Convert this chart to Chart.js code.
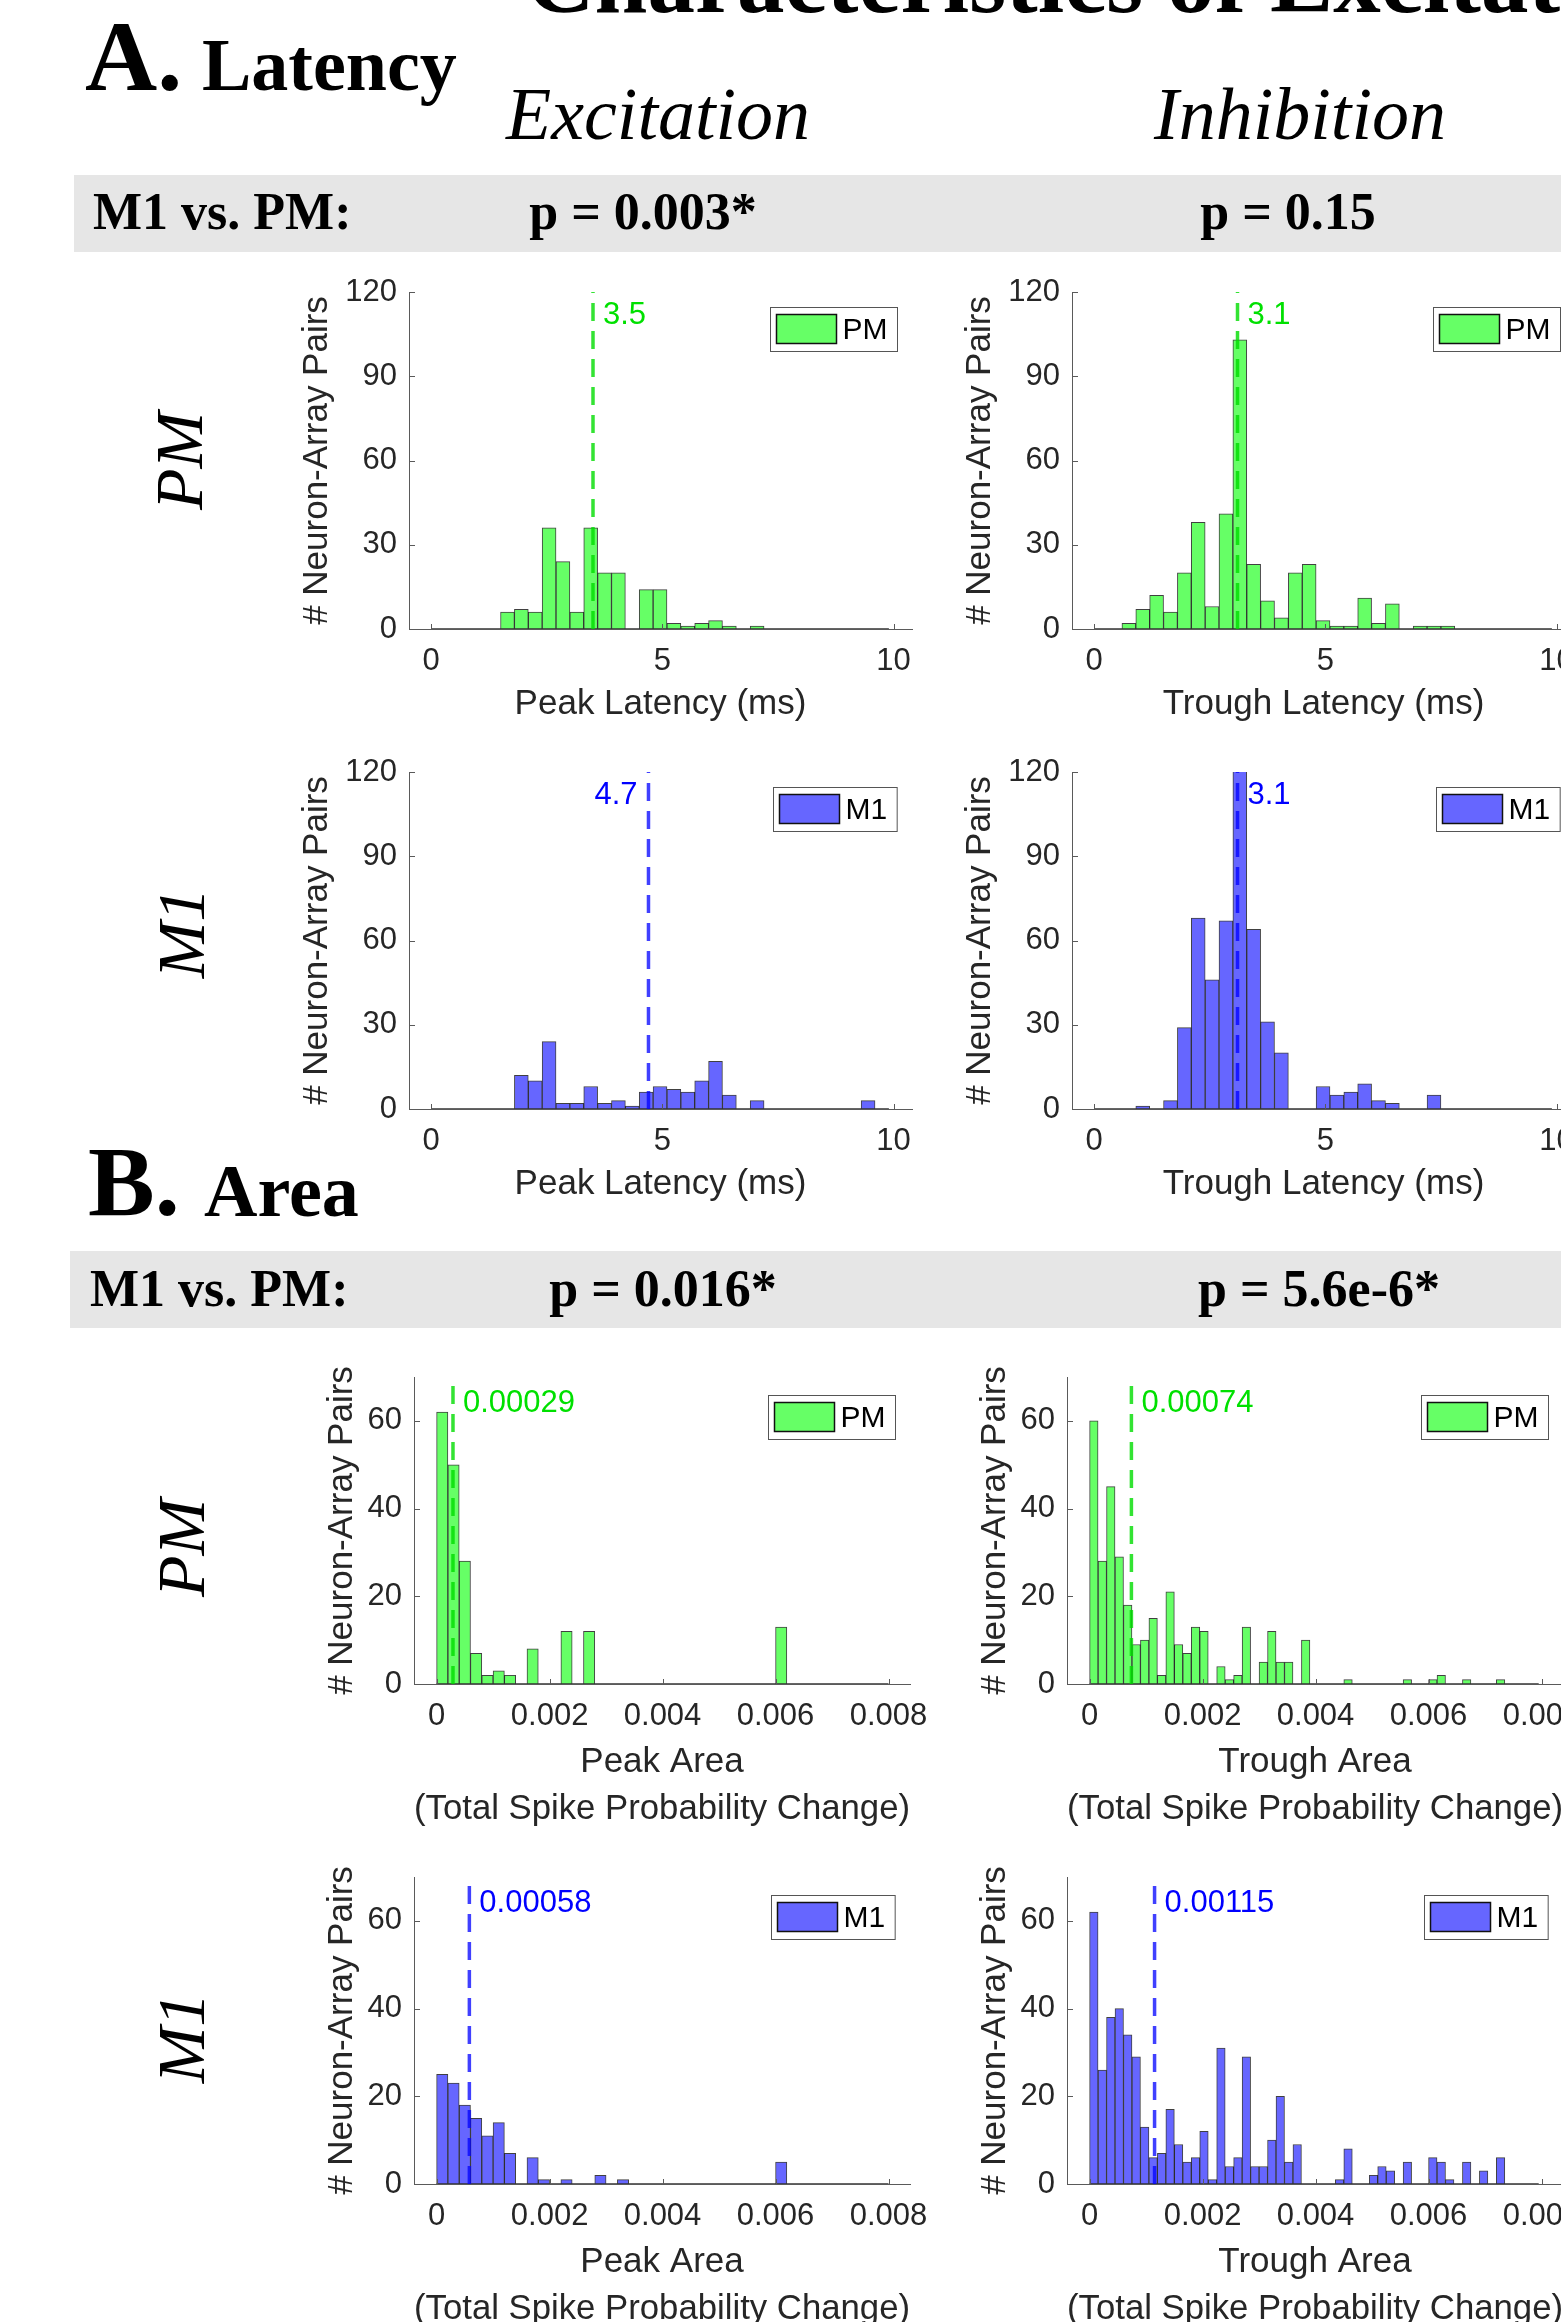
<!DOCTYPE html>
<html>
<head>
<meta charset="utf-8">
<script src="https://cdn.jsdelivr.net/npm/chart.js@4.4.0/dist/chart.umd.min.js"></script>
<style>
html, body { margin: 0; padding: 0; width: 1561px; height: 2322px; overflow: hidden; background: #fff; }
body { position: relative; }
.t { position: absolute; white-space: nowrap; line-height: 1; font-family: 'Liberation Serif', 'Times New Roman', serif; color: #000; }
.b { font-weight: bold; }
.i { font-style: italic; }
.c { transform: translateX(-50%); }
.band { position: absolute; background: #e6e6e6; height: 77px; width: 1600px; }
.row { position: absolute; white-space: nowrap; line-height: 1; font-family: 'Liberation Serif', 'Times New Roman', serif; font-style: italic; font-size: 68px; transform: translate(-50%, -50%) rotate(-90deg); }
canvas { position: absolute; }
</style>
</head>
<body>
<div class="t b" style="left:526px; top:-67px; font-size:95px;">Characteristics of Excitation and Inhibition</div>

<div class="t b" style="left:85px; top:7px; font-size:100px;">A.</div>
<div class="t b" style="left:202px; top:28px; font-size:74px;">Latency</div>
<div class="t i c" style="left:658px; top:77px; font-size:74px;">Excitation</div>
<div class="t i c" style="left:1300px; top:77px; font-size:74px;">Inhibition</div>

<div class="band" style="left:74px; top:175px;"></div>
<div class="t b" style="left:93px; top:186px; font-size:52px;">M1 vs. PM:</div>
<div class="t b c" style="left:643px; top:186px; font-size:52px;">p = 0.003*</div>
<div class="t b c" style="left:1288px; top:186px; font-size:52px;">p = 0.15</div>

<div class="row" style="left:179px; top:461px;">PM</div>
<div class="row" style="left:181px; top:933px;">M1</div>

<div class="t b" style="left:88px; top:1132px; font-size:100px;">B.</div>
<div class="t b" style="left:204px; top:1154px; font-size:74px;">Area</div>

<div class="band" style="left:70px; top:1251px;"></div>
<div class="t b" style="left:90px; top:1263px; font-size:52px;">M1 vs. PM:</div>
<div class="t b c" style="left:663px; top:1263px; font-size:52px;">p = 0.016*</div>
<div class="t b c" style="left:1319px; top:1263px; font-size:52px;">p = 5.6e-6*</div>

<div class="row" style="left:181px; top:1548px;">PM</div>
<div class="row" style="left:181px; top:2038px;">M1</div>

<script>
// ---- Histogram bins ----
const latencyBinWidth = 0.3;      // ms, bins start at 0
const peakAreaBinWidth = 0.0002;  // bins start at 0
const troughAreaBinWidth = 0.00015;

// ---- Counts per bin (# neuron-array pairs) ----
const pmPeakLatency   = [0,0,0,0,0,6,7,6,36,24,6,36,20,20,0,14,14,2,1,2,3,1,0,1,0,0,0,0,0,0,0,0,0];
const pmTroughLatency = [0,0,2,7,12,6,20,38,8,41,103,23,10,4,20,23,3,1,1,11,2,9,0,1,1,1,0,0,0,0,0,0,0];
const m1PeakLatency   = [0,0,0,0,0,0,12,10,24,2,2,8,2,3,1,6,8,7,6,10,17,5,0,3,0,0,0,0,0,0,0,3,0];
const m1TroughLatency = [0,0,0,1,0,3,29,68,46,67,125,64,31,20,0,0,8,5,6,9,3,2,0,0,5,0,0,0,0,0,0,0,0];

const pmPeakArea   = [62,50,28,7,2,3,2,0,8,0,0,12,0,12,0,0,0,0,0,0,0,0,0,0,0,0,0,0,0,0,13,0,0,0,0,0,0,0,0,0];
const m1PeakArea   = [25,23,18,15,11,14,7,0,6,1,0,1,0,0,2,0,1,0,0,0,0,0,0,0,0,0,0,0,0,0,5,0,0,0,0,0,0,0,0,0];
const pmTroughArea = [60,28,45,29,18,9,10,15,2,21,9,7,13,12,0,4,1,2,13,0,5,12,5,5,0,10,0,0,0,0,1,0,0,0,0,0,0,1,0,0,1,2,0,0,1,0,0,0,1,0,0,0,0];
const m1TroughArea = [62,26,38,40,34,29,13,6,7,17,9,5,6,12,1,31,4,6,29,4,4,10,20,5,9,0,0,0,0,1,8,0,0,2,4,3,0,5,0,0,6,5,1,0,5,0,3,0,6,0,0,0,0];

// ---- Means (dashed lines) ----
const latencyMeans = [3.5, 3.1, 4.7, 3.1];           // PM peak, PM trough, M1 peak, M1 trough
const latencyMeanLabels = ['3.5', '3.1', '4.7', '3.1'];
const areaMeans = [0.00029, 0.00074, 0.00058, 0.00115];
const areaMeanLabels = ['0.00029', '0.00074', '0.00058', '0.00115'];

// ---- Ticks ----
const latencyXTicks = [0, 5, 10];
const latencyYTicks = [0, 30, 60, 90, 120];
const areaXTicks = [0, 0.002, 0.004, 0.006, 0.008];
const areaYTicks = [0, 20, 40, 60];

// ---- Styles ----
const FONT = "'Liberation Sans', Arial, Helvetica, sans-serif";
const TXT = '#262626';
const AXIS = '#5a5a5a';
const TICK_SIZE = 31;
const TITLE_SIZE = 35;
const areaStyle = {
    PM: { fill: '#66ff66', line: 'rgba(0, 220, 0, 0.8)', text: '#00e000' },
    M1: { fill: '#6666ff', line: 'rgba(0, 0, 255, 0.75)', text: '#0000ff' }
};

Chart.defaults.font.family = FONT;

function histPoints(counts, width) {
    return counts.map((c, i) => ({ x: (i + 0.5) * width, y: c }));
}

// Draws inward tick marks, mean label and the boxed legend
const panelDecor = {
    id: 'panelDecor',
    afterDatasetsDraw(chart, args, o) {
        const { ctx, chartArea: a, scales: { x, y } } = chart;
        ctx.save();
        ctx.strokeStyle = AXIS;
        ctx.lineWidth = 1;
        x.ticks.forEach(t => {
            const px = Math.round(x.getPixelForValue(t.value)) + 0.5;
            ctx.beginPath(); ctx.moveTo(px, a.bottom); ctx.lineTo(px, a.bottom - 5); ctx.stroke();
        });
        y.ticks.forEach(t => {
            const py = Math.round(y.getPixelForValue(t.value)) + 0.5;
            ctx.beginPath(); ctx.moveTo(a.left, py); ctx.lineTo(a.left + 6, py); ctx.stroke();
        });

        // mean label
        ctx.font = TICK_SIZE + 'px ' + FONT;
        ctx.textBaseline = 'middle';
        ctx.fillStyle = o.textColor;
        const mx = x.getPixelForValue(o.mean);
        ctx.textAlign = o.labelLeft ? 'right' : 'left';
        ctx.fillText(o.meanLabel, mx + (o.labelLeft ? -11 : 10), a.top + o.labelDy);

        // legend
        ctx.font = '30px ' + FONT;
        const tw = ctx.measureText(o.region).width;
        const bw = 6 + 60 + 6 + tw + 10, bh = 44;
        const bx = Math.round(a.right - 15 - bw) + 0.5, by = Math.round(a.top + o.legendDy) + 0.5;
        ctx.fillStyle = '#fff';
        ctx.fillRect(bx, by, bw, bh);
        ctx.strokeStyle = '#555';
        ctx.lineWidth = 1;
        ctx.strokeRect(bx, by, bw, bh);
        ctx.fillStyle = o.fill;
        ctx.fillRect(bx + 6, by + 7, 60, 29);
        ctx.strokeStyle = '#111';
        ctx.lineWidth = 1.5;
        ctx.strokeRect(bx + 6, by + 7, 60, 29);
        ctx.fillStyle = '#000';
        ctx.textAlign = 'left';
        ctx.fillText(o.region, bx + 72, by + bh / 2 + 1);
        ctx.restore();
    }
};

function makePanel(p) {
    const yW = 125, padTop = 40, padRight = 70;
    const cw = yW + p.w + padRight, ch = padTop + p.h + p.xH;
    const canvas = document.createElement('canvas');
    canvas.width = cw;
    canvas.height = ch;
    canvas.style.left = (p.left - yW) + 'px';
    canvas.style.top = (p.top - padTop) + 'px';
    canvas.style.width = cw + 'px';
    canvas.style.height = ch + 'px';
    document.body.appendChild(canvas);

    const st = areaStyle[p.region];
    const titleLines = Array.isArray(p.xTitle) ? p.xTitle.length : 1;
    const xLineH = titleLines > 1 ? 47 : TITLE_SIZE * 1.2;
    const xTitlePad = p.xH - p.xTitleDist - xLineH / 2 - xLineH * (titleLines - 1);
    const yTitlePad = yW - p.yTitleDist - TITLE_SIZE * 0.6;

    new Chart(canvas.getContext('2d'), {
        type: 'bar',
        data: {
            datasets: [
                {
                    type: 'line',
                    data: [{ x: p.mean, y: 0 }, { x: p.mean, y: p.yMax }],
                    borderColor: st.line,
                    borderWidth: 3.5,
                    borderDash: [18, 10],
                    pointRadius: 0,
                    order: 0
                },
                {
                    type: 'line',
                    data: [{ x: 0, y: 0 }, { x: p.counts.length * p.binWidth, y: 0 }],
                    borderColor: '#333',
                    borderWidth: 1.5,
                    pointRadius: 0,
                    order: 1
                },
                {
                    type: 'bar',
                    data: histPoints(p.counts, p.binWidth),
                    backgroundColor: st.fill,
                    borderColor: 'rgba(0, 0, 0, 0.75)',
                    borderWidth: 1,
                    barPercentage: 1,
                    categoryPercentage: 1,
                    order: 2
                }
            ]
        },
        options: {
            responsive: false,
            animation: false,
            devicePixelRatio: 1,
            layout: { padding: { top: padTop, right: padRight, left: 0, bottom: 0 } },
            plugins: {
                legend: { display: false },
                tooltip: { enabled: false },
                panelDecor: {
                    region: p.region, fill: st.fill, textColor: st.text,
                    mean: p.mean, meanLabel: p.meanLabel, labelLeft: p.labelLeft,
                    labelDy: p.labelDy, legendDy: p.legendDy
                }
            },
            scales: {
                x: {
                    type: 'linear',
                    min: p.xMin,
                    max: p.xMax,
                    offset: false,
                    grid: { display: false, drawTicks: false },
                    border: { display: true, color: AXIS, width: 1 },
                    afterBuildTicks: s => { s.ticks = p.xTicks.map(v => ({ value: v })); },
                    afterFit: s => { s.height = p.xH; },
                    ticks: { font: { size: TICK_SIZE }, color: TXT, padding: 14, maxRotation: 0, autoSkip: false, callback: v => String(v) },
                    title: {
                        display: true, text: p.xTitle, color: TXT,
                        font: { size: TITLE_SIZE, lineHeight: xLineH / TITLE_SIZE },
                        padding: { top: 0, bottom: xTitlePad }
                    }
                },
                y: {
                    min: 0,
                    max: p.yMax,
                    grid: { display: false, drawTicks: false },
                    border: { display: true, color: AXIS, width: 1 },
                    afterBuildTicks: s => { s.ticks = p.yTicks.map(v => ({ value: v })); },
                    afterFit: s => { s.width = yW; },
                    ticks: { font: { size: TICK_SIZE }, color: TXT, padding: 12 },
                    title: {
                        display: true, text: '# Neuron-Array Pairs', color: TXT,
                        font: { size: TITLE_SIZE },
                        padding: { top: yTitlePad, bottom: 0 }
                    }
                }
            }
        },
        plugins: [panelDecor]
    });
}

const latencyBase = { binWidth: latencyBinWidth, xMin: -0.48, xMax: 10.4, yMax: 120, xTicks: latencyXTicks, yTicks: latencyYTicks,
    w: 503, h: 337, xH: 100, xTitleDist: 75, yTitleDist: 92, labelDy: 23, legendDy: 15 };
const areaBase = { xMin: -0.0004, xMax: 0.00838, yMax: 70, xTicks: areaXTicks, yTicks: areaYTicks,
    w: 496, h: 307, xH: 160, xTitleDist: 78, yTitleDist: 72, labelDy: 26, legendDy: 18 };

const panelList = [
    Object.assign({}, latencyBase, { region: 'PM', counts: pmPeakLatency, mean: latencyMeans[0], meanLabel: latencyMeanLabels[0],
        left: 409, top: 292, xTitle: 'Peak Latency (ms)' }),
    Object.assign({}, latencyBase, { region: 'PM', counts: pmTroughLatency, mean: latencyMeans[1], meanLabel: latencyMeanLabels[1],
        left: 1072, top: 292, xTitle: 'Trough Latency (ms)' }),
    Object.assign({}, latencyBase, { region: 'M1', counts: m1PeakLatency, mean: latencyMeans[2], meanLabel: latencyMeanLabels[2],
        left: 409, top: 772, xTitle: 'Peak Latency (ms)', labelLeft: true }),
    Object.assign({}, latencyBase, { region: 'M1', counts: m1TroughLatency, mean: latencyMeans[3], meanLabel: latencyMeanLabels[3],
        left: 1072, top: 772, xTitle: 'Trough Latency (ms)' }),
    Object.assign({}, areaBase, { region: 'PM', counts: pmPeakArea, binWidth: peakAreaBinWidth, mean: areaMeans[0], meanLabel: areaMeanLabels[0],
        left: 414, top: 1377, xTitle: ['Peak Area', '(Total Spike Probability Change)'] }),
    Object.assign({}, areaBase, { region: 'PM', counts: pmTroughArea, binWidth: troughAreaBinWidth, mean: areaMeans[1], meanLabel: areaMeanLabels[1],
        left: 1067, top: 1377, xTitle: ['Trough Area', '(Total Spike Probability Change)'] }),
    Object.assign({}, areaBase, { region: 'M1', counts: m1PeakArea, binWidth: peakAreaBinWidth, mean: areaMeans[2], meanLabel: areaMeanLabels[2],
        left: 414, top: 1877, xTitle: ['Peak Area', '(Total Spike Probability Change)'] }),
    Object.assign({}, areaBase, { region: 'M1', counts: m1TroughArea, binWidth: troughAreaBinWidth, mean: areaMeans[3], meanLabel: areaMeanLabels[3],
        left: 1067, top: 1877, xTitle: ['Trough Area', '(Total Spike Probability Change)'] })
];

panelList.forEach(makePanel);
</script>
</body>
</html>
